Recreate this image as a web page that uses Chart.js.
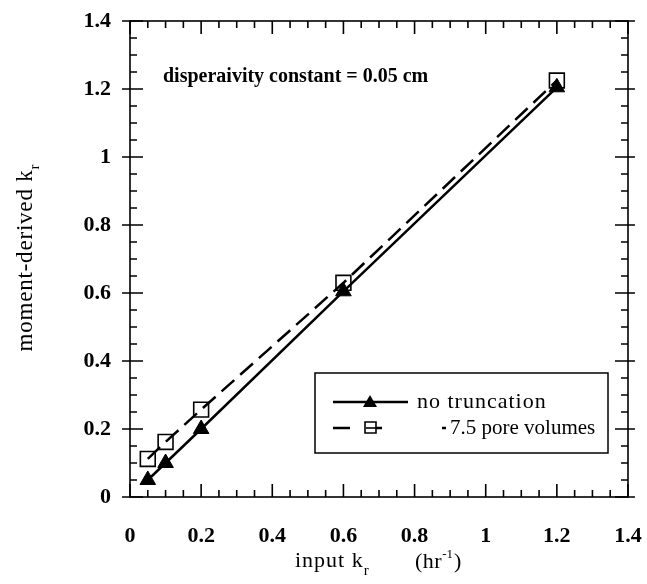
<!DOCTYPE html>
<html>
<head>
<meta charset="utf-8">
<script src="https://cdn.jsdelivr.net/npm/chart.js@4.4.1/dist/chart.umd.min.js"></script>
<style>
  html, body { margin: 0; padding: 0; background: #fff; }
  canvas { display: block; }
</style>
</head>
<body>
<canvas id="chart" width="647" height="584"></canvas>
<script>
const inputKr = [0.05, 0.1, 0.2, 0.6, 1.2]
const noTruncation = [0.05, 0.1, 0.2, 0.605, 1.205]
const porVolumes75 = [0.112, 0.162, 0.257, 0.63, 1.225]
const tickLabels = ['0', '0.2', '0.4', '0.6', '0.8', '1', '1.2', '1.4']

const SERIF = '"Liberation Serif", "DejaVu Serif", serif'

const toPoints = (ys) => inputKr.map((x, i) => ({ x, y: ys[i] }))

// inward ticks on all four sides, major every 0.2, minor every 0.05
const frameTicks = {
  id: 'frameTicks',
  afterDraw(chart) {
    const { ctx, chartArea: a, scales: { x, y } } = chart
    ctx.save()
    ctx.strokeStyle = '#000'
    ctx.lineWidth = 1.6
    ctx.strokeRect(a.left, a.top, a.right - a.left, a.bottom - a.top)
    ctx.beginPath()
    for (let i = 0; i <= 28; i++) {
      const major = i % 4 === 0
      const len = major ? 13 : 7
      const px = x.getPixelForValue(i / 20)
      ctx.moveTo(px, a.bottom)
      ctx.lineTo(px, a.bottom - len)
      ctx.moveTo(px, a.top)
      ctx.lineTo(px, a.top + len)
      const py = y.getPixelForValue(i / 20)
      ctx.moveTo(a.left - (major ? 8 : 0), py)
      ctx.lineTo(a.left + len, py)
      ctx.moveTo(a.right + (major ? 7 : 0), py)
      ctx.lineTo(a.right - len, py)
    }
    ctx.stroke()
    ctx.restore()
  },
}

const spaced = (ctx, font, spacing) => {
  ctx.font = font
  ctx.letterSpacing = spacing
}

// axis titles with sub/superscripts, note text and boxed legend
const annotations = {
  id: 'annotations',
  afterDraw(chart) {
    const { ctx } = chart
    ctx.save()
    ctx.fillStyle = '#000'
    ctx.textBaseline = 'alphabetic'
    ctx.textAlign = 'left'

    // x title
    spaced(ctx, `22px ${SERIF}`, '1px')
    ctx.fillText('input k', 295, 567)
    let w = ctx.measureText('input k').width
    spaced(ctx, `15px ${SERIF}`, '0px')
    ctx.fillText('r', 295 + w, 575)
    spaced(ctx, `22px ${SERIF}`, '0.5px')
    ctx.fillText('(hr', 415, 568)
    w = ctx.measureText('(hr').width
    spaced(ctx, `13px ${SERIF}`, '0px')
    ctx.fillText('-1', 415 + w, 558)
    const w2 = ctx.measureText('-1').width
    spaced(ctx, `22px ${SERIF}`, '0px')
    ctx.fillText(')', 415 + w + w2 + 1, 568)

    // y title
    ctx.save()
    ctx.translate(32, 258)
    ctx.rotate(-Math.PI / 2)
    const main = 'moment-derived k'
    spaced(ctx, `23px ${SERIF}`, '0.8px')
    const mw = ctx.measureText(main).width
    spaced(ctx, `15px ${SERIF}`, '0px')
    const sw = ctx.measureText('r').width
    const start = -(mw + sw) / 2
    spaced(ctx, `23px ${SERIF}`, '0.8px')
    ctx.fillText(main, start, 0)
    spaced(ctx, `15px ${SERIF}`, '0px')
    ctx.fillText('r', start + mw, 7)
    ctx.restore()

    // note
    spaced(ctx, `bold 20px ${SERIF}`, '0px')
    ctx.textBaseline = 'middle'
    ctx.fillText('disperaivity constant = 0.05 cm', 163, 77)

    // legend
    const box = { left: 315, top: 373, right: 608, bottom: 453 }
    ctx.lineWidth = 1.5
    ctx.strokeStyle = '#000'
    ctx.strokeRect(box.left, box.top, box.right - box.left, box.bottom - box.top)
    const rows = [
      { y: 402, segments: [[333, 408]], textX: 417, font: `22px ${SERIF}`, spacing: '1px' },
      { y: 428, segments: [[333, 350], [370, 382], [442, 446]], textX: 450, font: `21px ${SERIF}`, spacing: '0px' },
    ]
    chart.data.datasets.forEach((ds, i) => {
      const row = rows[i]
      const ry = row.y
      ctx.save()
      ctx.strokeStyle = ds.borderColor
      ctx.lineWidth = ds.borderWidth
      ctx.beginPath()
      row.segments.forEach(([x0, x1]) => {
        ctx.moveTo(x0, ry)
        ctx.lineTo(x1, ry)
      })
      ctx.stroke()
      ctx.restore()
      ctx.save()
      ctx.fillStyle = ds.pointBackgroundColor
      ctx.strokeStyle = ds.pointBorderColor
      ctx.lineWidth = ds.pointBorderWidth
      ctx.beginPath()
      if (ds.pointStyle === 'triangle') {
        ctx.moveTo(370, ry - 7)
        ctx.lineTo(370 + 7, ry + 5)
        ctx.lineTo(370 - 7, ry + 5)
        ctx.closePath()
        ctx.fill()
      } else {
        ctx.fillStyle = '#fff'
        ctx.rect(365, ry - 6, 11, 11)
        ctx.fill()
        ctx.stroke()
        ctx.beginPath()
        ctx.moveTo(366, ry)
        ctx.lineTo(382, ry)
        ctx.stroke()
      }
      ctx.restore()
      spaced(ctx, row.font, row.spacing)
      ctx.textAlign = 'left'
      ctx.fillStyle = '#000'
      ctx.fillText(ds.label, row.textX, ry)
    })
    ctx.restore()
  },
}

const tickFont = {
  color: '#000',
  font: { family: SERIF, size: 22, weight: 'bold' },
  callback: (v, i) => tickLabels[i],
}

const config = {
  type: 'scatter',
  data: {
    datasets: [
      {
        label: 'no truncation',
        data: toPoints(noTruncation),
        showLine: true,
        borderColor: '#000',
        borderWidth: 2.5,
        pointStyle: 'triangle',
        pointRadius: 9,
        pointBackgroundColor: '#000',
        pointBorderColor: '#000',
        pointBorderWidth: 1,
      },
      {
        label: '7.5 pore volumes',
        data: toPoints(porVolumes75),
        showLine: true,
        borderColor: '#000',
        borderWidth: 2.5,
        borderDash: [17, 8],
        pointStyle: 'rect',
        pointRadius: 10.5,
        pointBackgroundColor: 'rgba(255,255,255,0)',
        pointBorderColor: '#000',
        pointBorderWidth: 1.6,
      },
    ],
  },
  options: {
    responsive: false,
    animation: false,
    layout: { padding: { top: 21, right: 19, left: 0, bottom: 0 } },
    plugins: {
      legend: { display: false },
      tooltip: { enabled: false },
    },
    scales: {
      x: {
        type: 'linear',
        min: 0,
        max: 1.4,
        grid: { display: false, drawTicks: false },
        border: { display: false },
        ticks: { ...tickFont, stepSize: 0.2, padding: 26 },
        afterFit: (scale) => {
          scale.height = 87
          scale.paddingLeft = 0
          scale.paddingRight = 0
        },
      },
      y: {
        type: 'linear',
        min: 0,
        max: 1.4,
        grid: { display: false, drawTicks: false },
        border: { display: false },
        ticks: { ...tickFont, stepSize: 0.2, padding: 19 },
        afterFit: (scale) => {
          scale.width = 130
          scale.paddingTop = 0
          scale.paddingBottom = 0
        },
      },
    },
  },
  plugins: [frameTicks, annotations],
}

const draw = () => new Chart(document.getElementById('chart').getContext('2d'), config)

Promise.all([
  document.fonts.load('21px "Liberation Serif"'),
  document.fonts.load('bold 20px "Liberation Serif"'),
]).then(draw, draw)
</script>
</body>
</html>
